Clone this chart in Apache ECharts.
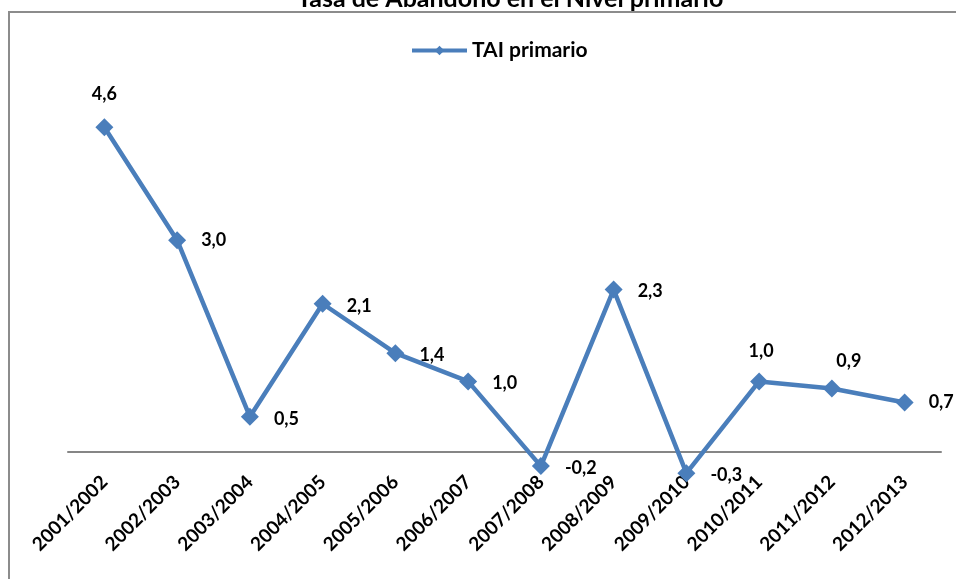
<!DOCTYPE html>
<html><head><meta charset="utf-8">
<script src="https://cdn.jsdelivr.net/npm/echarts@6/dist/echarts.min.js"></script>
<style>html,body{margin:0;padding:0;background:#fff}#c{width:956px;height:579px}</style>
</head><body><div id="c"></div>
<script>
const categories = ['2001/2002','2002/2003','2003/2004','2004/2005','2005/2006','2006/2007','2007/2008','2008/2009','2009/2010','2010/2011','2011/2012','2012/2013'];
const taiPrimario = [4.6, 3.0, 0.5, 2.1, 1.4, 1.0, -0.2, 2.3, -0.3, 1.0, 0.9, 0.7];
const seriesName = 'TAI primario';
const titleText = 'Tasa de Abandono en el Nivel primario';

const labelPlacement = ['top','right','right','right','right','right','right','right','right','top','top','right'];
const labelOffsets = [[0,0],[0,0],[0,2],[0,2],[0,2],[0,2],[0,2],[0,2],[0,2],[2,3],[17,6],[0,0]];

const font = 'Lato, "Open Sans", sans-serif';
const chart = echarts.init(document.getElementById('c'), null, {renderer:'canvas'});
chart.setOption({
  animation: false,
  title: { text: titleText, left: 292, top: -19, textStyle: { fontFamily: font, fontWeight: 'bold', fontSize: 25, color: '#000' } },
  graphic: [{ type: 'rect', shape: { x: 9, y: 12, width: 960, height: 600 }, style: { fill: 'none', stroke: '#8c8c8c', lineWidth: 2 }, z: -1 }],
  legend: { top: 35, left: 405, itemWidth: 55, itemHeight: 12, itemGap: 6,
    lineStyle: { width: 4 },
    textStyle: { fontFamily: font, fontWeight: 'bold', fontSize: 21, color: '#000' },
    data: [{ name: seriesName }] },
  grid: { left: 68, right: 15, top: 99, bottom: 127, containLabel: false, outerBoundsMode: 'none' },
  xAxis: { type: 'category', data: categories, boundaryGap: true,
    axisLine: { onZero: false, lineStyle: { color: '#868686', width: 2 } },
    axisTick: { show: false },
    axisLabel: { rotate: 45, margin: 27, interval: 0, fontFamily: font, fontWeight: 'bold', fontSize: 19, color: '#000' } },
  yAxis: { type: 'value', min: 0, max: 5, show: false, splitLine: { show: false } },
  series: [{
    name: seriesName, type: 'line', clip: false, data: taiPrimario.map((v, i) => ({
      value: v,
      label: { position: labelPlacement[i], offset: labelOffsets[i] }
    })),
    symbol: 'diamond', symbolSize: 18,
    lineStyle: { color: '#4a7ebb', width: 4.5 },
    itemStyle: { color: '#4a7ebb' },
    label: { show: true, distance: 15, fontFamily: font, fontWeight: 'bold', fontSize: 18, color: '#000',
      formatter: p => p.value.toFixed(1).replace('.', ',') }
  }]
});
</script></body></html>
